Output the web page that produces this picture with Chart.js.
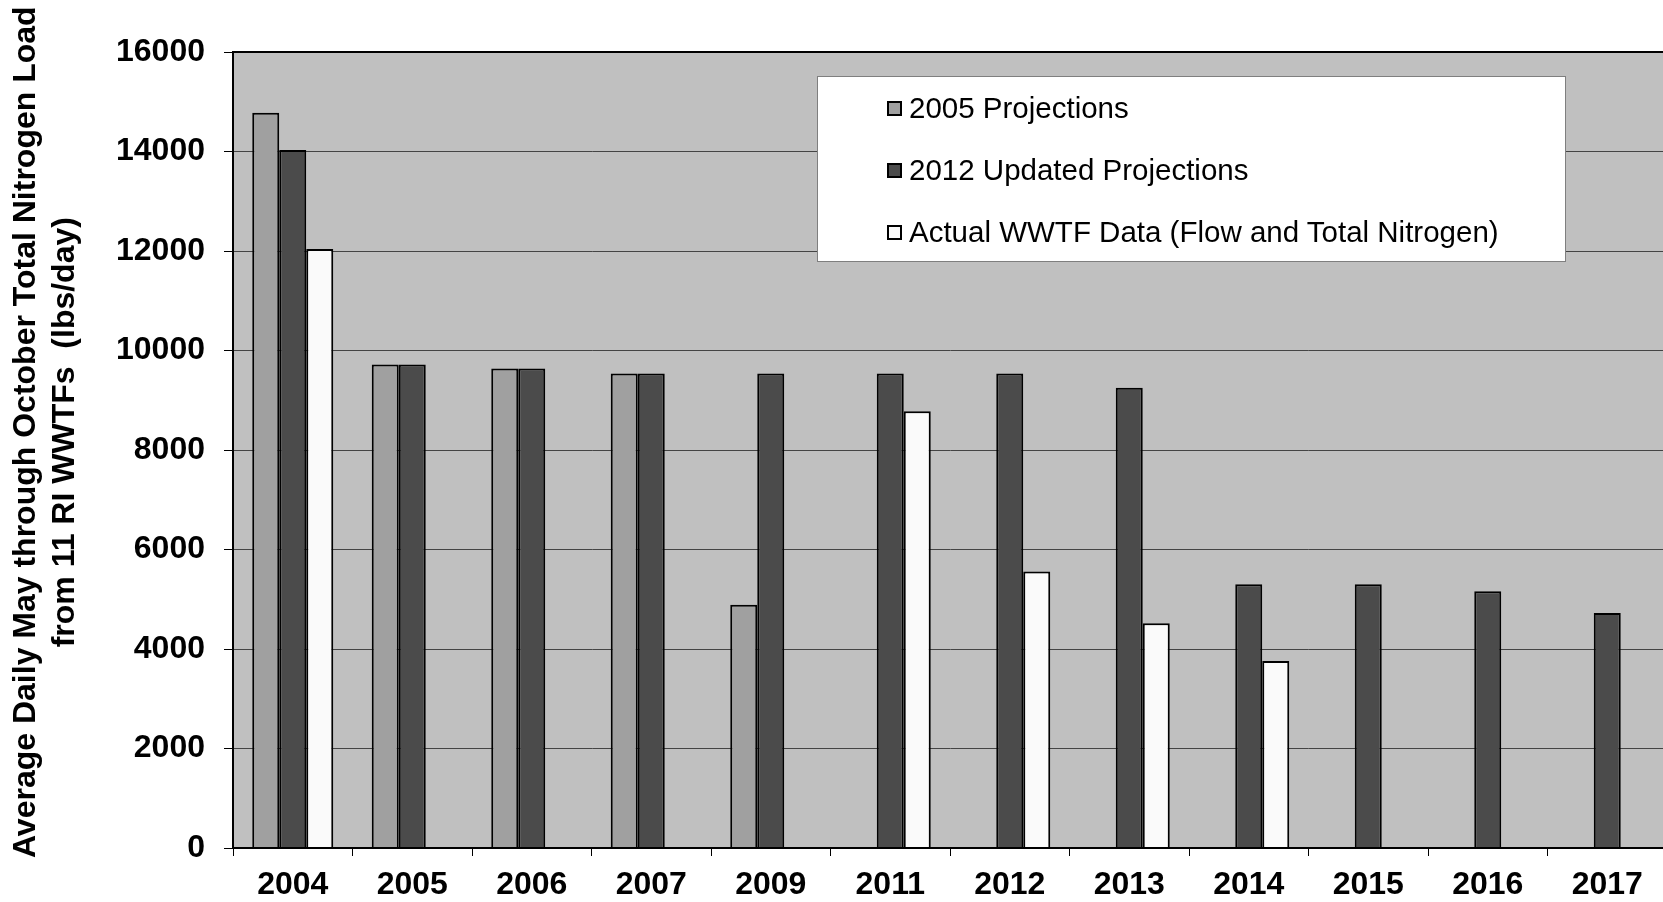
<!DOCTYPE html>
<html>
<head>
<meta charset="utf-8">
<script src="https://cdn.jsdelivr.net/npm/chart.js@4.4.1/dist/chart.umd.min.js"></script>
<style>
    html, body { margin: 0; padding: 0; background: #fff; overflow: hidden; }
    #wrap { position: relative; width: 1672px; height: 902px; }
    #legend {
        position: absolute; left: 817px; top: 76px; width: 749px; height: 186px;
        box-sizing: border-box; background: #fff; border: 1px solid #7f7f7f;
        font-family: "Liberation Sans", Arial, sans-serif; font-size: 29.5px; color: #000;
    }
    #legend .row { position: relative; height: 62px; line-height: 62px; padding-left: 91px; white-space: nowrap; }
    #legend .box {
        position: absolute; left: 69px; top: 24px; width: 15px; height: 15px;
        box-sizing: border-box; border: 2px solid #000;
    }
</style>
</head>
<body>
<div id="wrap">
    <canvas id="nitrogenChart"></canvas>
    <div id="legend"></div>
</div>
<script>
// Chart data (lbs/day)
const years = ['2004', '2005', '2006', '2007', '2009', '2011', '2012', '2013', '2014', '2015', '2016', '2017'];
const projections2005 = [14780, 9720, 9640, 9540, 4890, null, null, null, null, null, null, null];
const updated2012 = [14030, 9720, 9640, 9540, 9540, 9540, 9540, 9250, 5300, 5300, 5160, 4725];
const actualWwtf = [12040, null, null, null, null, 8780, 5560, 4520, 3760, null, null, null];
const yTicks = [0, 2000, 4000, 6000, 8000, 10000, 12000, 14000, 16000];

const FONT = '"Liberation Sans", Arial, sans-serif';

// grey plot background plus the black frame
const plotFrame = {
    id: 'plotFrame',
    beforeDraw(chart) {
        const { ctx, chartArea: a } = chart;
        ctx.save();
        ctx.fillStyle = '#c0c0c0';
        ctx.fillRect(a.left, a.top, a.right - a.left, a.bottom - a.top);
        ctx.restore();
    },
    afterDatasetsDraw(chart) {
        const { ctx, chartArea: a } = chart;
        ctx.save();
        ctx.strokeStyle = '#000';
        ctx.lineWidth = 2;
        ctx.strokeRect(a.left, a.top, a.right - a.left, a.bottom - a.top);
        ctx.restore();
    }
};

const ctx = document.getElementById('nitrogenChart').getContext('2d');
const chart = new Chart(ctx, {
    type: 'bar',
    data: {
        labels: years,
        datasets: [
            { label: '2005 Projections', data: projections2005, backgroundColor: '#a0a0a0' },
            { label: '2012 Updated Projections', data: updated2012, backgroundColor: '#4b4b4b' },
            { label: 'Actual WWTF Data (Flow and Total Nitrogen)', data: actualWwtf, backgroundColor: '#fafafa' }
        ].map(d => ({ ...d, borderColor: '#000', borderWidth: 2, borderSkipped: 'bottom' }))
    },
    options: {
        responsive: true,
        maintainAspectRatio: false,
        animation: false,
        categoryPercentage: 0.678,
        barPercentage: 1,
        layout: { padding: { top: 52, right: 5, bottom: 0, left: 0 } },
        plugins: { legend: { display: false }, tooltip: { enabled: false } },
        scales: {
            x: {
                afterFit: (scale) => { scale.height = 54; },
                grid: { offset: true, drawOnChartArea: false, drawTicks: true, tickLength: 8, tickColor: '#000' },
                border: { color: '#000', width: 2 },
                ticks: { color: '#000', padding: 10, font: { family: FONT, size: 32, weight: 'bold' } }
            },
            y: {
                min: 0,
                max: 16000,
                afterFit: (scale) => { scale.width = 233; },
                afterBuildTicks: (scale) => { scale.ticks = yTicks.map(v => ({ value: v })); },
                grid: {
                    color: (c) => c.tick && c.tick.value === 16000 ? '#000' : '#444',
                    lineWidth: 1, tickLength: 9, tickColor: '#000'
                },
                border: { color: '#000', width: 2 },
                ticks: {
                    color: '#000', padding: 19,
                    font: { family: FONT, size: 32, weight: 'bold' },
                    callback: (value) => String(value)
                },
                title: {
                    display: true,
                    text: ['    Average Daily May through October Total Nitrogen Load', '    from 11 RI WWTFs  (lbs/day)'],
                    color: '#000',
                    padding: { top: 6, bottom: 0 },
                    font: { family: FONT, size: 32, weight: 'bold', lineHeight: 1.24 }
                }
            }
        }
    },
    plugins: [plotFrame]
});

// legend box built from the datasets
const legendEl = document.getElementById('legend');
chart.data.datasets.forEach(ds => {
    const row = document.createElement('div');
    row.className = 'row';
    const sw = document.createElement('span');
    sw.className = 'box';
    sw.style.background = ds.backgroundColor;
    row.appendChild(sw);
    row.appendChild(document.createTextNode(ds.label));
    legendEl.appendChild(row);
});
</script>
</body>
</html>
